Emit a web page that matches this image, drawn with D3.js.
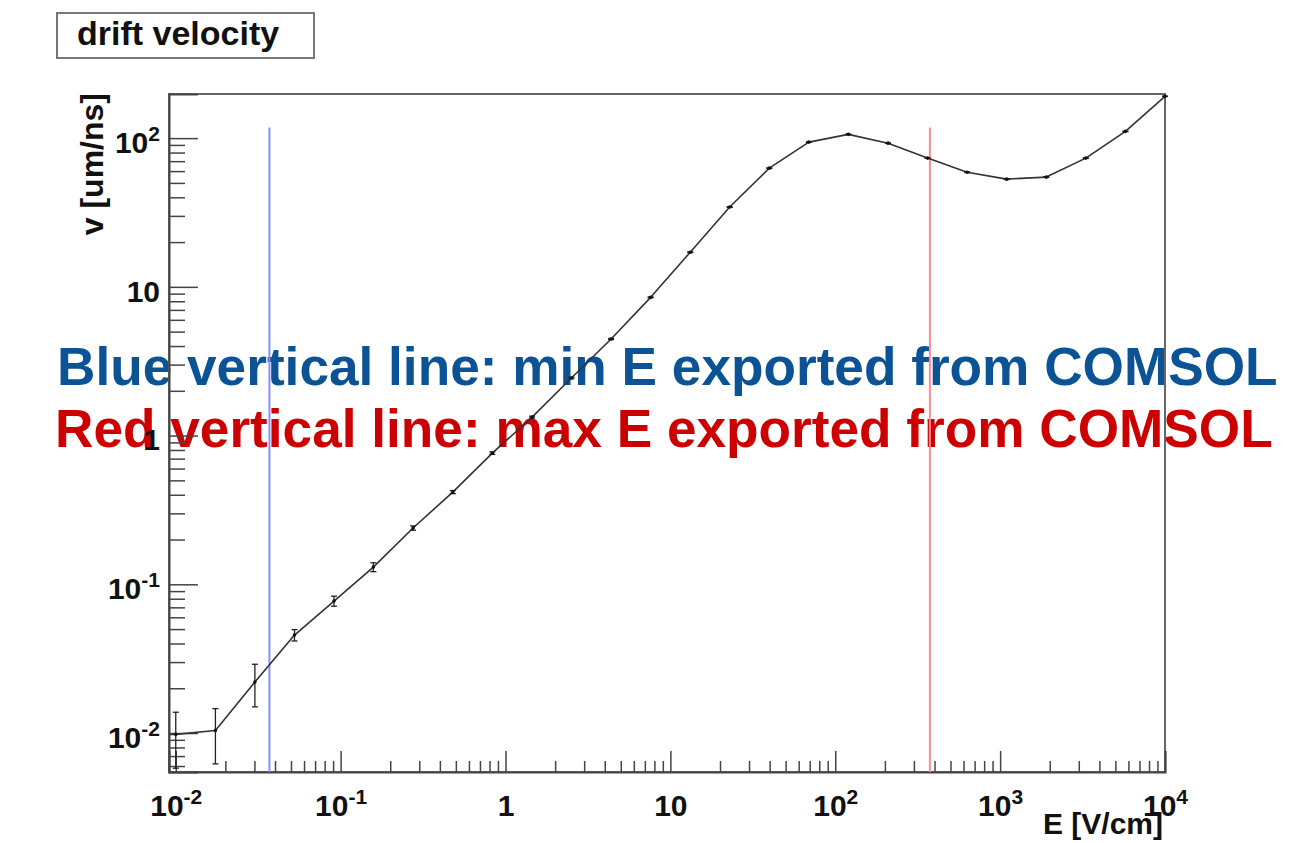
<!DOCTYPE html>
<html>
<head>
<meta charset="utf-8">
<script src="https://cdn.jsdelivr.net/npm/d3@7"></script>
<style>
  body { margin: 0; background: #fff; }
  svg text { font-family: "Liberation Sans", Arial, Helvetica, sans-serif; }
</style>
</head>
<body>
<div id="chart-container"></div>
<script>
var fieldE = [0.01, 0.0174, 0.0302, 0.0525, 0.0912, 0.158, 0.275, 0.479, 0.832, 1.45,
              2.51, 4.37, 7.59, 13.2, 22.9, 39.8, 69.2, 120, 209, 363,
              631, 1096, 1905, 3311, 5754, 10000];
var velocity = [0.0098, 0.0104, 0.022, 0.0456, 0.0772, 0.1306, 0.239, 0.417, 0.762, 1.33,
                2.44, 4.46, 8.5, 17.1, 34.4, 62.8, 94, 106, 92.5, 73.4,
                59, 53, 54.7, 73.4, 111, 191];
var velocityErr = [0.004, 0.0042, 0.007, 0.004, 0.006, 0.009, 0.008, 0.01, 0.015, 0.02,
                   0.03, 0.04, 0.06, 0.1, 0.2, 0.3, 0.4, 0.4, 0.4, 0.3,
                   0.3, 0.3, 0.3, 0.3, 0.4, 0.5];

// axis ranges and ticks
var xDomain = [0.0091, 10000];
var yDomain = [0.00547, 198];
var xMajorTicks = [0.01, 0.1, 1, 10, 100, 1000, 10000];
var yMajorTicks = [0.01, 0.1, 1, 10, 100];

// export limits (vertical lines)
var minExportE = 0.037;
var maxExportE = 375;
var limitTopV = 118;

var titleText = "drift velocity";
var xTitle = "E [V/cm]";
var yTitle = "v [um/ns]";
var noteBlue = "Blue vertical line: min E exported from COMSOL";
var noteRed = "Red vertical line: max E exported from COMSOL";

document.addEventListener("DOMContentLoaded", function() {
    var W = 1316, H = 843;
    const margin = {top: 94, right: 151, bottom: 71, left: 169};
    var w = W - margin.left - margin.right;
    var h = H - margin.top - margin.bottom;

    var root = d3.select("#chart-container")
        .append("svg")
        .attr("width", W)
        .attr("height", H);

    // the two notes sit underneath the chart strokes
    root.append("text")
        .attr("x", 57).attr("y", 385)
        .attr("font-size", 53.2).attr("font-weight", "bold")
        .attr("fill", "#0b5394")
        .text(noteBlue);
    root.append("text")
        .attr("x", 55).attr("y", 447)
        .attr("font-size", 53.2).attr("font-weight", "bold")
        .attr("fill", "#cc0000")
        .text(noteRed);

    // title box
    root.append("rect")
        .attr("x", 57).attr("y", 13)
        .attr("width", 257).attr("height", 45)
        .attr("fill", "none")
        .attr("stroke", "#777")
        .attr("stroke-width", 2);
    root.append("text")
        .attr("x", 77).attr("y", 45)
        .attr("font-size", 34).attr("font-weight", "bold")
        .attr("fill", "#111")
        .text(titleText);

    var svg = root.append("g")
        .attr("transform", "translate(" + margin.left + "," + margin.top + ")");

    var xScale = d3.scaleLog().domain(xDomain).range([0, w]);
    var yScale = d3.scaleLog().domain(yDomain).range([h, 0]);

    // minor ticks: 2..9 in every decade inside the domain
    function minors(domain) {
        var out = [];
        for (var p = -3; p <= 4; p++) {
            for (var m = 2; m <= 9; m++) {
                var v = m * Math.pow(10, p);
                if (v >= domain[0] && v <= domain[1]) out.push(v);
            }
        }
        return out;
    }

    function powerLabel(sel) {
        sel.each(function(d) {
            var t = d3.select(this).text("");
            var e = Math.round(Math.log10(d));
            if (e === 0 || e === 1) {
                t.text(e === 0 ? "1" : "10");
            } else {
                t.append("tspan").text("10");
                t.append("tspan").attr("font-size", 21).attr("dy", -12).text(e);
            }
        });
    }

    // frame
    svg.append("rect")
        .attr("width", w).attr("height", h)
        .attr("fill", "none")
        .attr("stroke", "#666")
        .attr("stroke-width", 2);

    // x axis
    svg.append("g")
        .attr("transform", "translate(0," + h + ")")
        .call(d3.axisBottom(xScale).tickValues(minors(xDomain)).tickSize(-11).tickFormat(""))
        .call(g => g.select(".domain").remove());
    var xAxis = svg.append("g")
        .attr("class", "x-axis")
        .attr("transform", "translate(0," + h + ")")
        .call(d3.axisBottom(xScale).tickValues(xMajorTicks).tickSize(-21).tickPadding(23));
    xAxis.select(".domain").attr("stroke", "#444").attr("stroke-width", 2);
    xAxis.selectAll("text")
        .attr("font-size", 30).attr("font-weight", "bold").attr("fill", "#111")
        .call(powerLabel);

    // y axis
    svg.append("g")
        .call(d3.axisLeft(yScale).tickValues(minors(yDomain)).tickSize(-16).tickFormat(""))
        .call(g => g.select(".domain").remove());
    var yAxis = svg.append("g")
        .attr("class", "y-axis")
        .call(d3.axisLeft(yScale).tickValues(yMajorTicks).tickSize(-29).tickPadding(9));
    yAxis.select(".domain").attr("stroke", "#444").attr("stroke-width", 2);
    yAxis.selectAll("text")
        .attr("font-size", 30).attr("font-weight", "bold").attr("fill", "#111")
        .attr("dy", "0.48em")
        .call(powerLabel);
    svg.selectAll(".tick line").attr("stroke", "#444").attr("stroke-width", 1.5);

    // axis titles
    root.append("text")
        .attr("x", margin.left + w - 2).attr("y", 834)
        .attr("text-anchor", "end")
        .attr("font-size", 30).attr("font-weight", "bold").attr("fill", "#111")
        .text(xTitle);
    root.append("text")
        .attr("transform", "translate(103,93) rotate(-90)")
        .attr("text-anchor", "end")
        .attr("font-size", 32).attr("font-weight", "bold").attr("fill", "#111")
        .text(yTitle);

    // export limit lines
    svg.append("line")
        .attr("x1", xScale(minExportE)).attr("x2", xScale(minExportE))
        .attr("y1", yScale(limitTopV)).attr("y2", h)
        .attr("stroke", "#8c8cff").attr("stroke-width", 2);
    svg.append("line")
        .attr("x1", xScale(maxExportE)).attr("x2", xScale(maxExportE))
        .attr("y1", yScale(limitTopV)).attr("y2", h)
        .attr("stroke", "#ff8c8c").attr("stroke-width", 2);

    // polyline through the points, starting from the frame edge
    var pts = fieldE.map((e, i) => [xScale(e), yScale(velocity[i])]);
    pts.unshift([0, pts[0][1]]);
    svg.append("path")
        .datum(pts)
        .attr("fill", "none")
        .attr("stroke", "#333")
        .attr("stroke-width", 1.6)
        .attr("stroke-linejoin", "round")
        .attr("d", d3.line());

    // error bars with caps
    var bars = svg.append("g").attr("stroke", "#222").attr("stroke-width", 1.3);
    fieldE.forEach(function(e, i) {
        var x = xScale(e);
        var lo = Math.max(velocity[i] - velocityErr[i], yDomain[0]);
        var y1 = yScale(velocity[i] + velocityErr[i]);
        var y2 = Math.min(yScale(lo), h);
        bars.append("line").attr("x1", x).attr("x2", x).attr("y1", y1).attr("y2", y2);
        bars.append("line").attr("x1", x - 3).attr("x2", x + 3).attr("y1", y1).attr("y2", y1);
        bars.append("line").attr("x1", x - 3).attr("x2", x + 3).attr("y1", y2).attr("y2", y2);
    });

    // markers
    svg.selectAll("circle.pt")
        .data(fieldE)
        .enter()
        .append("circle")
        .attr("class", "pt")
        .attr("cx", d => xScale(d))
        .attr("cy", (d, i) => yScale(velocity[i]))
        .attr("r", 1.8)
        .attr("fill", "#111");
});
</script>
</body>
</html>
